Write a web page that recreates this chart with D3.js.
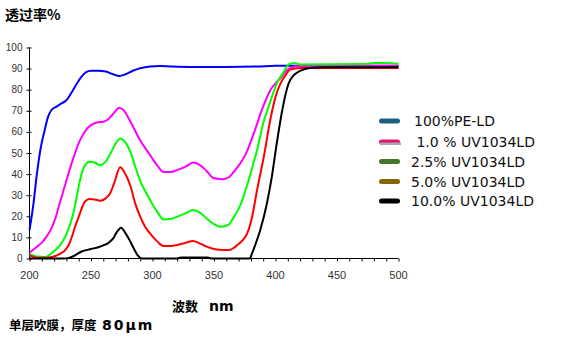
<!DOCTYPE html>
<html><head><meta charset="utf-8">
<script src="https://cdn.jsdelivr.net/npm/d3@7"></script>
<style>body{margin:0;background:#fff}svg{display:block}</style>
</head><body><svg id="c" width="562" height="343"></svg>
<script>
const seriesNames = ["100%PE-LD", " 1.0 % UV1034LD", "2.5% UV1034LD", "5.0% UV1034LD", "10.0% UV1034LD"];
const lineColors = ["#0000ff", "#ff00ff", "#00ff00", "#ff0000", "#000000"];
const legendColors = ["#1d6080", "#e8136f", "#46762a", "#8a6508", "#000000"];
const xTicks = [200, 250, 300, 350, 400, 450, 500];
const yTicks = [0, 10, 20, 30, 40, 50, 60, 70, 80, 90, 100];

// [wavelength nm, transmittance %]
const pe100 = [[200,13.5],[203,25],[206,40],[209,52],[212,60],[215,67],[218,70.5],[222,72],[226,73.5],[230,75],[234,78.5],[238,82.5],[242,86],[246,88.3],[250,89],[256,89],[262,88.6],[268,87.3],[273,86.5],[278,87.3],[284,89],[290,90.2],[298,91],[306,91.2],[315,91],[330,90.8],[360,90.8],[385,91],[400,91.3],[420,91.4],[460,91.3],[500,91.2]];
const uv10 = [[200,2.7],[206,5.6],[210,7.5],[214,10.5],[218,14.5],[221,19],[225,27],[230,37],[235,46.5],[241,56],[246,61],[250,63.2],[255,64.5],[260,64.8],[264,66],[268,68.5],[273,71.5],[277,70],[281,66],[285,61.5],[290,56],[298,49],[304,44],[309,41],[315,41],[320,41.9],[327,43.5],[333,45.5],[338,44.5],[344,41.5],[350,38],[357,37.6],[362,38.5],[366,41],[370,44],[373,46.6],[377,51],[380,55.5],[384,62],[388,69],[392,75],[396,80],[400,83],[404,85.5],[408,88.5],[412,90.3],[420,91.2],[460,91.4],[500,91.5]];
const uv25 = [[200,2],[206,0.9],[213,0.7],[217,2],[221,4],[225,6.5],[229,10.3],[232,14.5],[235,20],[238,28],[241,37],[245,44],[249,45.8],[253,45.5],[257.5,44.2],[262,46],[266,50],[270,54.5],[274,56.9],[278,55],[282,50.5],[286,43.5],[290,36.8],[294,32],[298,27.7],[304,22],[309,18.5],[315,18.8],[320,19.8],[327,21.5],[333,23],[338,22],[344,19],[350,16.3],[356,15],[362,16],[366,19.5],[370,23.5],[373,27.7],[376,33],[379,38.7],[382,45],[385,51.3],[390,64],[395.7,74.2],[401,82.9],[406.6,88.4],[410.6,91.9],[414.7,92.7],[420,92],[474,92.2],[480,92.6],[490,92.6],[500,92.3]];
const uv50 = [[200,1.5],[206,0.4],[213,0.3],[217,0.6],[221,1.2],[225,2.3],[229,4],[232,6.5],[234.5,10.3],[237,15],[240.5,20.6],[245,26.9],[249,28.2],[253,28],[257.5,27.4],[262,28.5],[265.6,30.9],[269,36],[273.7,43.2],[277,41],[282,34.5],[286,26],[290,19.8],[294,15],[298,11.9],[304,8],[309,5.9],[315,5.9],[320,6.4],[327,7.5],[333,8.3],[338,7.3],[344,5.6],[352,4.3],[362,4],[366,5],[369,6.4],[373,8.5],[377,11.9],[381,19.8],[385,32.4],[390.5,48.2],[395.7,65.5],[400,76.6],[404,82.9],[408,86.8],[412,89.5],[420,90.3],[500,90.3]];
const uv100 = [[200,0],[228,0],[232,0.3],[236,1.2],[242,3.2],[250,4.5],[256,5.3],[260,6.2],[264,7.3],[268,9.5],[271,12.5],[274.4,14.6],[278,12],[282,8],[285,4.5],[288,1.5],[291.5,0],[320,0],[323,0.5],[345,0.5],[348,0],[379,0],[381,2.5],[383.5,6.4],[387.6,13.5],[393,26.1],[397,38.7],[401,54.5],[405,68.7],[408,77.4],[410.6,82.9],[414.7,86.8],[420,88.9],[428,90.3],[440,90.6],[500,90.6]];
const allSeries = [pe100, uv10, uv25, uv50, uv100];

const svg = d3.select("#c");
const x = d3.scaleLinear().domain([200, 500]).range([29.5, 398.5]);
const y = d3.scaleLinear().domain([0, 100]).range([258.5, 47.5]);

// axes
const gx = svg.append("g").attr("transform", `translate(0,${y(0)})`);
gx.call(d3.axisBottom(x).tickValues(d3.range(200, 501, 10)).tickSize(3).tickFormat(""));
gx.selectAll(".domain").attr("stroke", "#000").attr("d", `M${x(200)},0H${x(500)}`);
gx.selectAll(".tick line").attr("stroke", "#000");
gx.selectAll(".tick text").remove();
gx.selectAll(".lbl").data(xTicks).enter().append("text")
  .attr("x", d => x(d)).attr("y", 20).attr("text-anchor", "middle")
  .attr("font-family", "Liberation Sans, Arial, sans-serif").attr("font-size", 11).attr("fill", "#333")
  .text(d => d);

const gy = svg.append("g").attr("transform", `translate(${x(200)},0)`);
gy.call(d3.axisLeft(y).tickValues(yTicks).tickSize(3).tickFormat(""));
gy.selectAll(".domain").attr("stroke", "#000").attr("d", `M0,${y(0)}V${y(100)}`);
gy.selectAll(".tick line").attr("stroke", "#000").attr("x2", 2).attr("x1", -3);
gy.selectAll(".lbl").data(yTicks).enter().append("text")
  .attr("x", -7).attr("y", d => y(d)).attr("dy", "0.35em").attr("text-anchor", "end")
  .attr("font-family", "Liberation Sans, Arial, sans-serif").attr("font-size", 10).attr("fill", "#333")
  .text(d => d);

// lines
const line = d3.line().x(d => x(d[0])).y(d => y(d[1])).curve(d3.curveMonotoneX);
svg.append("g").selectAll("path").data(allSeries).enter().append("path")
  .attr("d", line).attr("fill", "none")
  .attr("stroke", (d, i) => lineColors[i]).attr("stroke-width", 2);

// legend
const lg = svg.append("g");
const rowsY = [121, 142, 161.5, 181.5, 201];
const textX = [414, 412, 411, 411, 411];
seriesNames.forEach((n, i) => {
  lg.append("rect").attr("x", 379).attr("y", rowsY[i] - 2.5).attr("width", 21).attr("height", 5)
    .attr("rx", 2.5).attr("fill", legendColors[i]);
  if (i === 1) lg.append("rect").attr("x", 380).attr("y", rowsY[i] + 0.5).attr("width", 21).attr("height", 2.5).attr("fill", "#a8a8a8");
  lg.append("text").attr("x", textX[i]).attr("y", rowsY[i]).attr("dy", "0.36em")
    .attr("font-family", "DejaVu Sans, Verdana, sans-serif").attr("font-size", 14).attr("fill", "#111")
    .attr("xml:space", "preserve").style("white-space", "pre").text(n);
});

// titles
svg.append("text").attr("x", 5).attr("y", 20).attr("font-family", "Noto Sans CJK SC, sans-serif")
  .attr("font-weight", "bold").attr("font-size", 14).attr("fill", "#000").text("透过率%");
const xt = svg.append("text").attr("y", 311).attr("font-weight", "bold").attr("fill", "#000");
xt.append("tspan").attr("x", 172).attr("font-family", "Noto Sans CJK SC, sans-serif").attr("font-size", 13).text("波数");
xt.append("tspan").attr("x", 209).attr("font-family", "DejaVu Sans, sans-serif").attr("font-size", 14).text("nm");
const bt = svg.append("text").attr("y", 330).attr("font-weight", "bold").attr("fill", "#000");
bt.append("tspan").attr("x", 9).attr("font-family", "Noto Sans CJK SC, sans-serif").attr("font-size", 12.5).text("单层吹膜，厚度");
bt.append("tspan").attr("x", 102).attr("font-family", "DejaVu Sans, sans-serif").attr("font-size", 14).attr("letter-spacing", 2).text("80μm");
</script></body></html>
